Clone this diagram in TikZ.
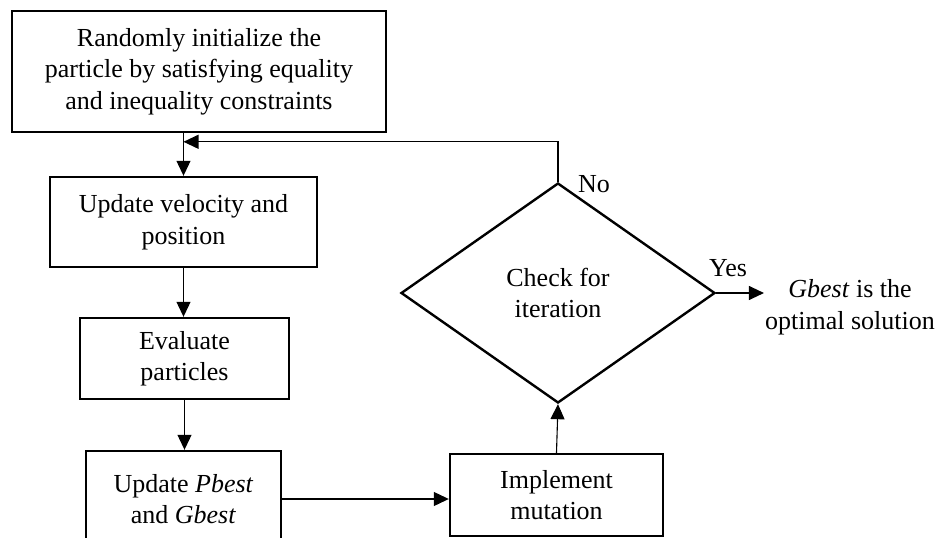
\documentclass[tikz,border=0pt]{standalone}
\usepackage{fontspec}
\setmainfont{Liberation Serif}
\usepackage{tikz}
\usetikzlibrary{arrows.meta,calc,positioning,shapes.geometric}

\begin{document}
\begin{tikzpicture}[
  x=1pt, y=-1pt,
  font=\fontsize{26}{31.5}\selectfont,
  box/.style={draw, line width=2.4pt, align=center, inner sep=3pt},
  dec/.style={draw, diamond, line width=2.4pt, align=center, inner sep=0pt, aspect=1.43},
  arr/.style={-{Triangle[length=15pt,width=14pt]}, line width=1.1pt},
  lbl/.style={anchor=west, inner sep=0pt}
]
\useasboundingbox (0,0) rectangle (938,538);

% Left column
\node[box, minimum width=374pt, minimum height=121pt] (init) at (199,71.5)
  {Randomly initialize the\\particle by satisfying equality\\and inequality constraints};
\node[box, minimum width=267pt, minimum height=90pt] (upvel) at (183.5,222)
  {Update velocity and\\position};
\node[box, minimum width=209pt, minimum height=81pt] (eval) at (184.5,358.5)
  {Evaluate\\particles};
\node[box, minimum width=195pt, minimum height=96pt] (upbest) at (183.5,499)
  {Update \textit{Pbest}\\and \textit{Gbest}};

% Right column
\node[box, minimum width=213pt, minimum height=82pt] (mutate) at (556.5,495)
  {Implement\\mutation};
\node[dec, minimum width=314pt, minimum height=220pt] (check) at (558,293)
  {Check for\\iteration};
\node[align=center, inner sep=1pt] (result) at (850,307)
  {\textit{Gbest} is the\\optimal solution};

\draw[arr] (upvel.north |- init.south) -- (upvel.north);
\draw[arr] (upvel.south) -- (upvel.south |- eval.north);
\draw[arr] (eval.south) -- (eval.south |- upbest.north);
\draw[arr] (upbest.east) -- (upbest.east -| mutate.west);
\draw[arr] (mutate.north) -- (check.south);
\draw[arr] (check.north) -- ++(0,-40) coordinate (loop) -- (loop -| upvel.north);
\draw[arr] (check.east) -- (check.east -| result.west);

\node[lbl] (no) at (578,184) {No};
\node[lbl] (yes) at (709,268) {Yes};

\end{tikzpicture}
\end{document}
